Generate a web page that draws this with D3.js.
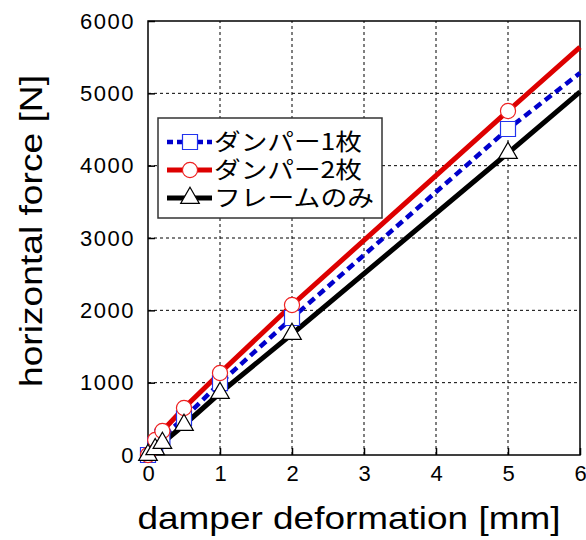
<!DOCTYPE html>
<html><head><meta charset="utf-8">
<script src="https://cdn.jsdelivr.net/npm/d3@7"></script>
<style>body{margin:0;background:#fff}svg{display:block}</style>
</head><body>
<script>
const xTicks = [0,1,2,3,4,5,6];
const yTicks = [0,1000,2000,3000,4000,5000,6000];
const xMarkers = [0,0.1,0.2,0.5,1,2,5];
const damper1 = [0,138,250,510,995,1894,4507];
const damper2 = [0,207,332,650,1134,2074,4756];
const frameOnly = [0,80,166,415,857,1673,4175];
// line extension to x = 6
const xEnd = 6;
const damper1End = 5281;
const damper2End = 5640;
const frameEnd = 5019;
const seriesNames = ["ダンパー1枚","ダンパー2枚","フレームのみ"];

const W=586,H=540;
const svg=d3.select("body").append("svg").attr("width",W).attr("height",H);
const m={l:148,r:6,t:21,b:85};
const x=d3.scaleLinear().domain([0,6]).range([m.l,W-m.r]);
const y=d3.scaleLinear().domain([0,6000]).range([H-m.b,m.t]);
const font="'Liberation Sans', Arial, sans-serif";

// grid
const g=svg.append("g");
g.selectAll(".gx").data(xTicks.slice(1,-1)).join("line")
 .attr("x1",d=>x(d)).attr("x2",d=>x(d)).attr("y1",y(0)).attr("y2",y(6000))
 .attr("stroke","#000").attr("stroke-width",1).attr("stroke-dasharray","3,3");
g.selectAll(".gy").data(yTicks.slice(1,-1)).join("line")
 .attr("y1",d=>y(d)).attr("y2",d=>y(d)).attr("x1",x(0)).attr("x2",x(6))
 .attr("stroke","#000").attr("stroke-width",1).attr("stroke-dasharray","3,3");
// frame
svg.append("rect").attr("x",x(0)).attr("y",y(6000)).attr("width",x(6)-x(0)).attr("height",y(0)-y(6000))
 .attr("fill","none").attr("stroke","#000").attr("stroke-width",1.5);

// axes
const xa=svg.append("g").attr("transform",`translate(0,${y(0)})`)
 .call(d3.axisBottom(x).tickValues(xTicks).tickSize(-7).tickPadding(8).tickFormat(d3.format("d")));
const ya=svg.append("g").attr("transform",`translate(${x(0)},0)`)
 .call(d3.axisLeft(y).tickValues(yTicks).tickSize(-7).tickPadding(13).tickFormat(d3.format("d")));
[xa,ya].forEach(a=>{a.select(".domain").remove();
 a.selectAll("line").attr("stroke","#000").attr("stroke-width",1.5);
 a.selectAll("text").attr("font-family",font).attr("font-size",22).attr("fill","#000").attr("letter-spacing",1.5);});
xa.selectAll("text").attr("dy","0.8em").attr("letter-spacing",0);

svg.append("text").attr("x",(x(0)+x(6))/2-15).attr("y",529).attr("text-anchor","middle")
 .attr("font-family",font).attr("font-size",32).attr("fill","#000")
 .attr("textLength",423).attr("lengthAdjust","spacingAndGlyphs").text("damper deformation [mm]");
svg.append("text").attr("transform",`translate(42,231) rotate(-90)`).attr("text-anchor","middle")
 .attr("font-family",font).attr("font-size",32).attr("fill","#000")
 .attr("textLength",312).attr("lengthAdjust","spacingAndGlyphs").text("horizontal force [N]");

const series=[
 {name:seriesNames[0],vals:damper1,end:damper1End,color:"#0000cc",w:4.5,dash:"8,5",marker:"square",mc:"#2233ee"},
 {name:seriesNames[1],vals:damper2,end:damper2End,color:"#dd0000",w:5,dash:null,marker:"circle",mc:"#ee2222"},
 {name:seriesNames[2],vals:frameOnly,end:frameEnd,color:"#000",w:5,dash:null,marker:"triangle",mc:"#000"}
];
const line=d3.line().x(d=>x(d[0])).y(d=>y(d[1]));
const sym={square:d3.symbolSquare,circle:d3.symbolCircle,triangle:d3.symbolTriangle};
const size={square:225,circle:180,triangle:150};
const plot=svg.append("g");
series.forEach(s=>{
 const pts=xMarkers.map((xx,i)=>[xx,s.vals[i]]).concat([[xEnd,s.end]]);
 plot.append("path").attr("d",line(pts)).attr("fill","none").attr("stroke",s.color)
  .attr("stroke-width",s.w).attr("stroke-dasharray",s.dash);
});
series.forEach(s=>{
 plot.selectAll(null).data(xMarkers.map((xx,i)=>[xx,s.vals[i]])).join("path")
  .attr("transform",d=>`translate(${x(d[0])},${y(d[1])})`)
  .attr("d",d3.symbol().type(sym[s.marker]).size(size[s.marker]))
  .attr("fill","#fff").attr("stroke",s.mc).attr("stroke-width",1.2);
});

// legend
const lg=svg.append("g");
lg.append("rect").attr("x",158).attr("y",118).attr("width",224).attr("height",100)
 .attr("fill","#fff").attr("stroke","#333").attr("stroke-width",1.5);
const legW=[148,148,160];
series.forEach((s,i)=>{
 const yy=142+i*28;
 lg.append("line").attr("x1",167).attr("x2",212).attr("y1",yy).attr("y2",yy)
  .attr("stroke",s.color).attr("stroke-width",s.w).attr("stroke-dasharray",s.dash?"6,4":null);
 lg.append("path").attr("transform",`translate(190,${yy})`)
  .attr("d",d3.symbol().type(sym[s.marker]).size(size[s.marker]))
  .attr("fill","#fff").attr("stroke",s.mc).attr("stroke-width",1.2);
 lg.append("text").attr("x",214).attr("y",yy).attr("dy","0.36em")
  .attr("font-family","'Noto Sans CJK JP', sans-serif").attr("font-size",23).attr("fill","#000")
  .attr("textLength",legW[i]).attr("lengthAdjust","spacingAndGlyphs").text(s.name);
});
</script>
</body></html>
